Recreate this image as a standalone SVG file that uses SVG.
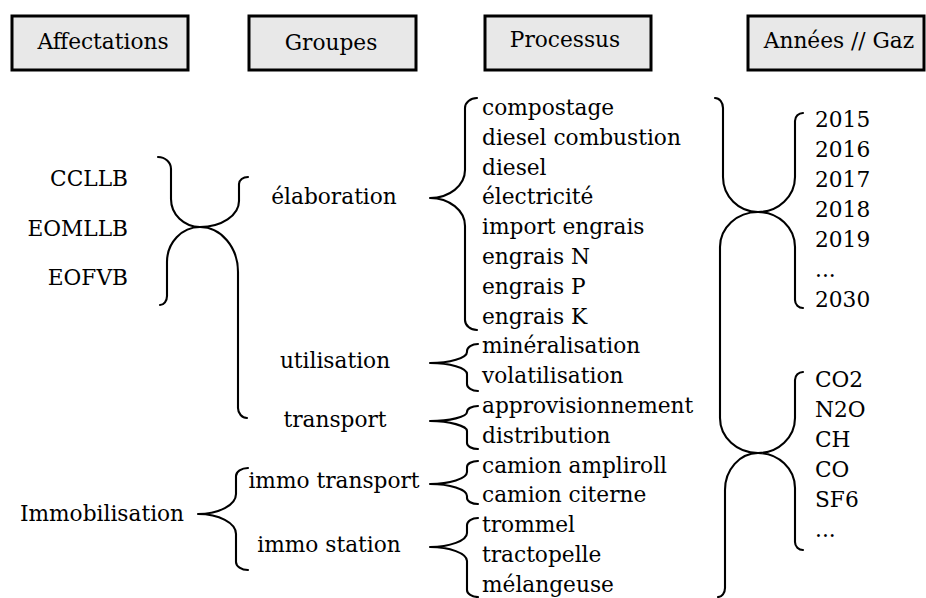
<svg xmlns="http://www.w3.org/2000/svg" width="926" height="598" viewBox="0 0 926 598">
<style>
.t{font-family:"DejaVu Serif","Liberation Serif",serif;font-size:21.7px;fill:#000}
.m{text-anchor:middle}
.e{text-anchor:end}
.hdr{fill:#e8e8e8;stroke:#000;stroke-width:3}
.br{fill:none;stroke:#000;stroke-width:2.1;stroke-linecap:round;stroke-linejoin:round}
</style>
<rect width="926" height="598" fill="#fff"/>
<g id="headers">
<g id="h-affectations"><rect class="hdr" x="12" y="16" width="176" height="54"/><text class="t m" x="103" y="49">Affectations</text></g>
<g id="h-groupes"><rect class="hdr" x="249" y="16" width="167" height="54"/><text class="t m" x="331" y="50">Groupes</text></g>
<g id="h-processus"><rect class="hdr" x="485" y="16" width="166" height="54"/><text class="t m" x="565" y="47">Processus</text></g>
<g id="h-annees"><rect class="hdr" x="748" y="16" width="176" height="54"/><text class="t m" x="839" y="48">Années // Gaz</text></g>
</g>
<g id="affectations">
<g id="n-ccllb"><text class="t e" x="128" y="186">CCLLB</text></g>
<g id="n-eomllb"><text class="t e" x="128" y="236">EOMLLB</text></g>
<g id="n-eofvb"><text class="t e" x="128" y="285">EOFVB</text></g>
<g id="n-immobilisation"><text class="t m" x="102" y="521">Immobilisation</text></g>
</g>
<g id="groupes">
<g id="n-elaboration"><text class="t m" x="334" y="204">élaboration</text></g>
<g id="n-utilisation"><text class="t m" x="335" y="368">utilisation</text></g>
<g id="n-transport"><text class="t m" x="335" y="427">transport</text></g>
<g id="n-immo-transport"><text class="t m" x="334" y="488">immo transport</text></g>
<g id="n-immo-station"><text class="t m" x="329" y="552">immo station</text></g>
</g>
<g id="processus">
<g id="n-compostage"><text class="t" x="482" y="115">compostage</text></g>
<g id="n-diesel-combustion"><text class="t" x="482" y="144.8">diesel combustion</text></g>
<g id="n-diesel"><text class="t" x="482" y="174.6">diesel</text></g>
<g id="n-electricite"><text class="t" x="482" y="204.4">électricité</text></g>
<g id="n-import-engrais"><text class="t" x="482" y="234.2">import engrais</text></g>
<g id="n-engrais-n"><text class="t" x="482" y="264">engrais N</text></g>
<g id="n-engrais-p"><text class="t" x="482" y="293.8">engrais P</text></g>
<g id="n-engrais-k"><text class="t" x="482" y="323.6">engrais K</text></g>
<g id="n-mineralisation"><text class="t" x="482" y="353.4">minéralisation</text></g>
<g id="n-volatilisation"><text class="t" x="482" y="383.2">volatilisation</text></g>
<g id="n-approvisionnement"><text class="t" x="482" y="413">approvisionnement</text></g>
<g id="n-distribution"><text class="t" x="482" y="442.8">distribution</text></g>
<g id="n-camion-ampliroll"><text class="t" x="482" y="472.6">camion ampliroll</text></g>
<g id="n-camion-citerne"><text class="t" x="482" y="502.4">camion citerne</text></g>
<g id="n-trommel"><text class="t" x="482" y="532.2">trommel</text></g>
<g id="n-tractopelle"><text class="t" x="482" y="562">tractopelle</text></g>
<g id="n-melangeuse"><text class="t" x="482" y="591.5">mélangeuse</text></g>
</g>
<g id="annees">
<g id="n-2015"><text class="t" x="815" y="127">2015</text></g>
<g id="n-2016"><text class="t" x="815" y="157">2016</text></g>
<g id="n-2017"><text class="t" x="815" y="187">2017</text></g>
<g id="n-2018"><text class="t" x="815" y="217">2018</text></g>
<g id="n-2019"><text class="t" x="815" y="247">2019</text></g>
<g id="n-annees-etc"><text class="t" x="815" y="277">...</text></g>
<g id="n-2030"><text class="t" x="815" y="307">2030</text></g>
</g>
<g id="gaz">
<g id="n-co2"><text class="t" x="815" y="387">CO2</text></g>
<g id="n-n2o"><text class="t" x="815" y="417">N2O</text></g>
<g id="n-ch"><text class="t" x="815" y="447">CH</text></g>
<g id="n-co"><text class="t" x="815" y="477">CO</text></g>
<g id="n-sf6"><text class="t" x="815" y="507">SF6</text></g>
<g id="n-gaz-etc"><text class="t" x="815" y="537">...</text></g>
</g>
<g id="connectors">
<path class="br" d="M158,157 C165.2,157 171,162.4 171,169 L171,199 C171,214.5 184,227 200,227 C221.5,227 239,215.4 239,201 L239,184 C239,180.1 243,177 248,177"/>
<path class="br" d="M160,305 C163.9,305 167,301 167,296 L167,262 C167,242.7 181.8,227 200,227 C221,227 238,247.2 238,272 L238,408 C238,413.5 242,418 247,418"/>
<path class="br" d="M248,468 C241.4,468 236,471.6 236,476 L236,494 C236,505 219,514 198,514 C219,514 236,523 236,534 L236,562 C236,566.4 241.4,570 248,570"/>
<path class="br" d="M477,98 C470.4,98 465,102.5 465,108 L465,170 C465,185.5 449.3,198 430,198 C449.3,198 465,210.5 465,226 L465,320 C465,325.5 470.4,330 477,330"/>
<path class="br" d="M478,344 C471.9,344 467,347.1 467,351 L467,352 C467,358.1 449.6,363 430,363 C449.6,363 467,367.9 467,374 L467,384 C467,387.9 471.9,391 478,391"/>
<path class="br" d="M478,406 C471.9,406 467,408.7 467,412 C467,417 449.6,421 430,421 C449.6,421 467,426 467,431 L467,443 C467,446.3 471.9,449 478,449"/>
<path class="br" d="M478,461 C471.9,461 467,463.7 467,467 L467,472 C467,478.6 449.6,484 430,484 C449.6,484 467,489.4 467,496 L467,498 C467,501.3 471.9,504 478,504"/>
<path class="br" d="M478,518 C471.9,518 467,521.1 467,525 L467,533 C467,540.7 449.6,547 430,547 C449.6,547 467,553.3 467,561 L467,590 C467,593.9 471.9,597 478,597"/>
<path class="br" d="M715,98 C719.4,98 723,102.5 723,108 L723,177 C723,196.3 738.7,212 758,212 C778.4,212 795,196.3 795,177 L795,121 C795,116.6 798.6,113 803,113"/>
<path class="br" d="M758,212 C778.4,212 795,227.7 795,247 L795,300 C795,304.4 798.6,308 803,308"/>
<path class="br" d="M758,212 C737,212 720,227.7 720,247 L720,418 C720,437.3 737,453 758,453 C739.8,453 725,469.6 725,490 L725,588 C725,593 721.9,597 718,597"/>
<path class="br" d="M803,372 C798.6,372 795,375.6 795,380 L795,418 C795,437.3 778.4,453 758,453 C778.4,453 795,468.7 795,488 L795,542 C795,546.4 798.6,550 803,550"/>
</g>
</svg>
